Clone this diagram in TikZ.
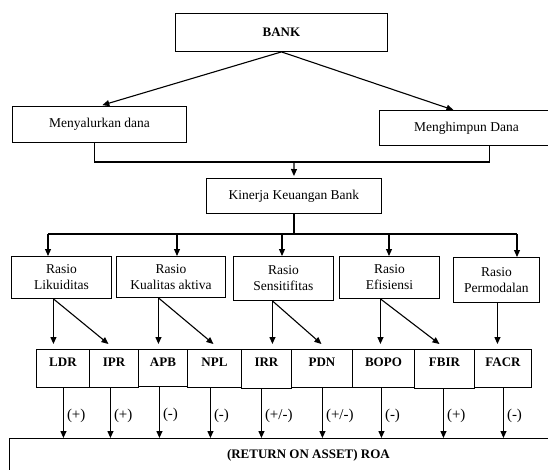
\documentclass[tikz,border=0pt]{standalone}
\usepackage{fontspec}
\setmainfont{Liberation Serif}
\usetikzlibrary{arrows.meta}

\tikzset{
  box/.style={draw, line width=0.9pt, inner sep=0pt, anchor=north west, align=center,
    font=\fontsize{13.5}{16}\selectfont},
  ratio/.style={draw, line width=0.9pt, inner sep=0pt, anchor=north west,
    text height=17pt, text depth=21pt, font=\bfseries\fontsize{13}{16}\selectfont},
  arr/.style={line width=1.1pt, -{Triangle[length=7pt,width=6pt]}},
  ln/.style={line width=1.1pt},
  sign/.style={right, inner sep=3pt, font=\fontsize{15}{18}\selectfont},
}

\begin{document}
\begin{tikzpicture}[x=1pt, y=-1pt]

  % Frame of the picture
  \clip (0,0) rectangle (548,469);
  \fill[white] (0,0) rectangle (548,469);

  % Top level
  \node[box, minimum width=212pt, minimum height=38pt, font=\bfseries\fontsize{13}{16}\selectfont]
    (bank) at (175,13) {BANK};
  \node[box, minimum width=174pt, minimum height=36pt] (salur) at (12,106) {Menyalurkan dana};
  \node[box, minimum width=174pt, minimum height=35pt] (himpun) at (379,110) {Menghimpun Dana};
  \node[box, minimum width=175pt, minimum height=35pt] (kinerja) at (206,178) {Kinerja Keuangan Bank};

  \draw[arr, shorten >=3pt] (bank.south) -- (salur.north);
  \draw[arr] (bank.south) -- ([xshift=-13pt]himpun.north);

  % Joining line
  \coordinate (join) at (294,162);
  \draw[ln] ([xshift=-5pt]salur.south) |- (join) -| ([xshift=23pt]himpun.south);
  \draw[arr, shorten >=2pt] (join) -- (kinerja.north);

  % Ratio groups
  \node[box, minimum width=100pt, minimum height=42pt] (lik) at (11,256) {Rasio\\Likuiditas};
  \node[box, minimum width=109pt, minimum height=41pt] (kual) at (116,256) {Rasio\\Kualitas aktiva};
  \node[box, minimum width=100pt, minimum height=44pt] (sens) at (233,256) {Rasio\\Sensitifitas};
  \node[box, minimum width=100pt, minimum height=42pt] (efis) at (339,256) {Rasio\\Efisiensi};
  \node[box, minimum width=86pt, minimum height=45pt] (perm) at (453,257) {Rasio\\Permodalan};

  \foreach \n/\x in {lik/48, kual/177, sens/282, efis/389, perm/517} {
    \coordinate (t-\n) at (\x,234);
    \draw[arr] (t-\n) -- (t-\n |- \n.north);
  }
  \draw[ln] (t-lik) -- (t-perm);
  \draw[ln] (kinerja.south) -- (kinerja.south |- t-lik);

  % Single ratios
  \node[ratio, minimum width=53pt] (ldr) at (36,349) {LDR};
  \node[ratio, minimum width=49pt] (ipr) at (89,349) {IPR};
  \node[ratio, minimum width=49pt, text depth=20pt] (apb) at (138,349) {APB};
  \node[ratio, minimum width=54pt] (npl) at (187,349) {NPL};
  \node[ratio, minimum width=50pt, text depth=22pt] (irr) at (241,349) {IRR};
  \node[ratio, minimum width=61pt] (pdn) at (291,349) {PDN};
  \node[ratio, minimum width=62pt] (bopo) at (352,349) {BOPO};
  \node[ratio, minimum width=60pt, text depth=22pt] (fbir) at (414,349) {FBIR};
  \node[ratio, minimum width=57pt] (facr) at (474,349) {FACR};

  \foreach \p/\dx/\a/\b/\dd in {lik/-8/ldr/ipr/-5.5, kual/-12.5/apb/npl/-1, sens/-11/irr/pdn/-0.5, efis/-9/bopo/fbir/-5} {
    \coordinate (s-\p) at ([xshift=\dx pt]\p.south);
    \draw[arr, shorten >=5pt] (s-\p) -- (s-\p |- \a.north);
    \draw[arr] (s-\p) -- ([xshift=\dd pt, yshift=5pt]\b.north);
  }
  \draw[arr, shorten >=5pt] ([xshift=1pt]perm.south) -- ([xshift=1pt]perm.south |- facr.north);

  % Result
  \node[ratio, minimum width=598pt, text height=20pt, text depth=40pt] (roa) at (9,438)
    {(RETURN ON ASSET) ROA};

  \foreach \n/\dx/\s in {ldr/0.5/{(+)}, ipr/-3.5/{(+)}, apb/-3.5/{(-)}, npl/-4/{(-)}, irr/-5/{(+/-)},
                         pdn/0.5/{(+/-)}, bopo/-2/{(-)}, fbir/-1/{(+)}, facr/0.5/{(-)}} {
    \coordinate (o-\n) at ([xshift=\dx pt]\n.south);
    \draw[arr] (o-\n) -- (o-\n |- roa.north) node[sign, pos=0.55] {\s};
  }

\end{tikzpicture}
\end{document}
